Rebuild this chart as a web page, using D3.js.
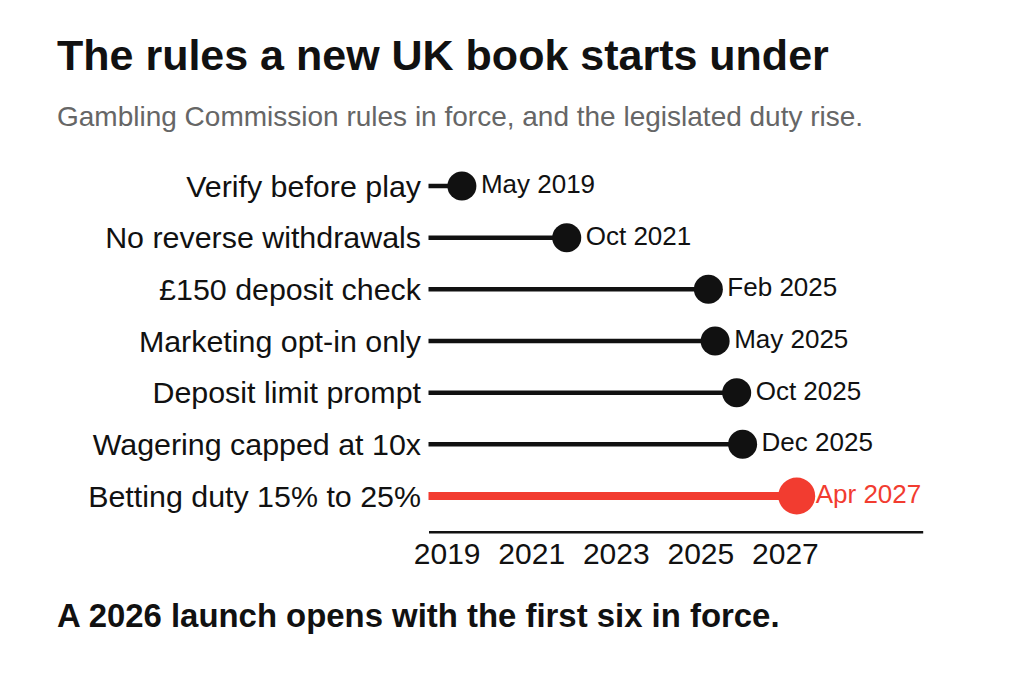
<!DOCTYPE html>
<html>
<head>
<meta charset="utf-8">
<script src="https://cdn.jsdelivr.net/npm/d3@7"></script>
<style>
  html, body { margin: 0; padding: 0; background: #fff; }
  svg { display: block; font-family: "Liberation Sans", Arial, sans-serif; }
  .axis text { font-family: "Liberation Sans", Arial, sans-serif; }
</style>
</head>
<body>
<svg id="chart" width="1024" height="682"></svg>
<script>
// Rules and the date each one came (or comes) into force
const rules = [
  "Verify before play",
  "No reverse withdrawals",
  "£150 deposit check",
  "Marketing opt-in only",
  "Deposit limit prompt",
  "Wagering capped at 10x",
  "Betting duty 15% to 25%",
];
const dateLabels = [
  "May 2019",
  "Oct 2021",
  "Feb 2025",
  "May 2025",
  "Oct 2025",
  "Dec 2025",
  "Apr 2027",
];
// Position on the year axis
const years = [2019.36, 2021.84, 2025.19, 2025.35, 2025.86, 2026.0, 2027.28];
// Only the duty rise is highlighted
const highlight = [false, false, false, false, false, false, true];
const yearTicks = [2019, 2021, 2023, 2025, 2027];

const data = rules.map((r, i) => ({
  rule: r,
  label: dateLabels[i],
  year: years[i],
  hot: highlight[i],
}));

const BLACK = "#111";
const RED = "#f23c30";

const svg = d3.select("#chart");

// Titles
svg.append("text")
  .attr("x", 57).attr("y", 70)
  .attr("font-size", 43).attr("font-weight", 700).attr("fill", BLACK)
  .text("The rules a new UK book starts under");

svg.append("text")
  .attr("x", 57).attr("y", 126)
  .attr("font-size", 28).attr("fill", "#666")
  .text("Gambling Commission rules in force, and the legislated duty rise.");

svg.append("text")
  .attr("x", 57).attr("y", 627)
  .attr("font-size", 32.9).attr("font-weight", 700).attr("fill", BLACK)
  .text("A 2026 launch opens with the first six in force.");

// Scales
const x = d3.scaleLinear().domain([2018.57, 2030.26]).range([428.5, 922.7]);
const y = d3.scalePoint().domain(rules).range([186, 496]);

// x axis: a plain line with year labels, no tick marks
const gx = svg.append("g")
  .attr("class", "x axis")
  .attr("transform", `translate(0,${531.7})`)
  .call(d3.axisBottom(x).tickValues(yearTicks).tickFormat(d3.format("d"))
    .tickSize(0).tickSizeOuter(0).tickPadding(11));
gx.select(".domain").attr("stroke", BLACK).attr("stroke-width", 2.5);
gx.selectAll(".tick text").attr("font-size", 30).attr("fill", BLACK);

// Row labels
svg.append("g")
  .selectAll("text")
  .data(data)
  .join("text")
  .attr("x", 421)
  .attr("y", (d) => y(d.rule))
  .attr("dy", "0.35em")
  .attr("text-anchor", "end")
  .attr("font-size", 30.4)
  .attr("fill", BLACK)
  .text((d) => d.rule);

// Stems from the axis start to each date
svg.append("g")
  .selectAll("line")
  .data(data)
  .join("line")
  .attr("x1", x.range()[0])
  .attr("x2", (d) => x(d.year))
  .attr("y1", (d) => y(d.rule))
  .attr("y2", (d) => y(d.rule))
  .attr("stroke", (d) => (d.hot ? RED : BLACK))
  .attr("stroke-width", (d) => (d.hot ? 8 : 4.5));

// Dots
svg.append("g")
  .selectAll("circle")
  .data(data)
  .join("circle")
  .attr("cx", (d) => x(d.year))
  .attr("cy", (d) => y(d.rule))
  .attr("r", (d) => (d.hot ? 18.5 : 14.5))
  .attr("fill", (d) => (d.hot ? RED : BLACK));

// Date labels to the right of each dot
svg.append("g")
  .selectAll("text")
  .data(data)
  .join("text")
  .attr("x", (d) => x(d.year) + 19)
  .attr("y", (d) => y(d.rule) + 7)
  .attr("font-size", 26)
  .attr("fill", (d) => (d.hot ? RED : BLACK))
  .text((d) => d.label);
</script>
</body>
</html>
